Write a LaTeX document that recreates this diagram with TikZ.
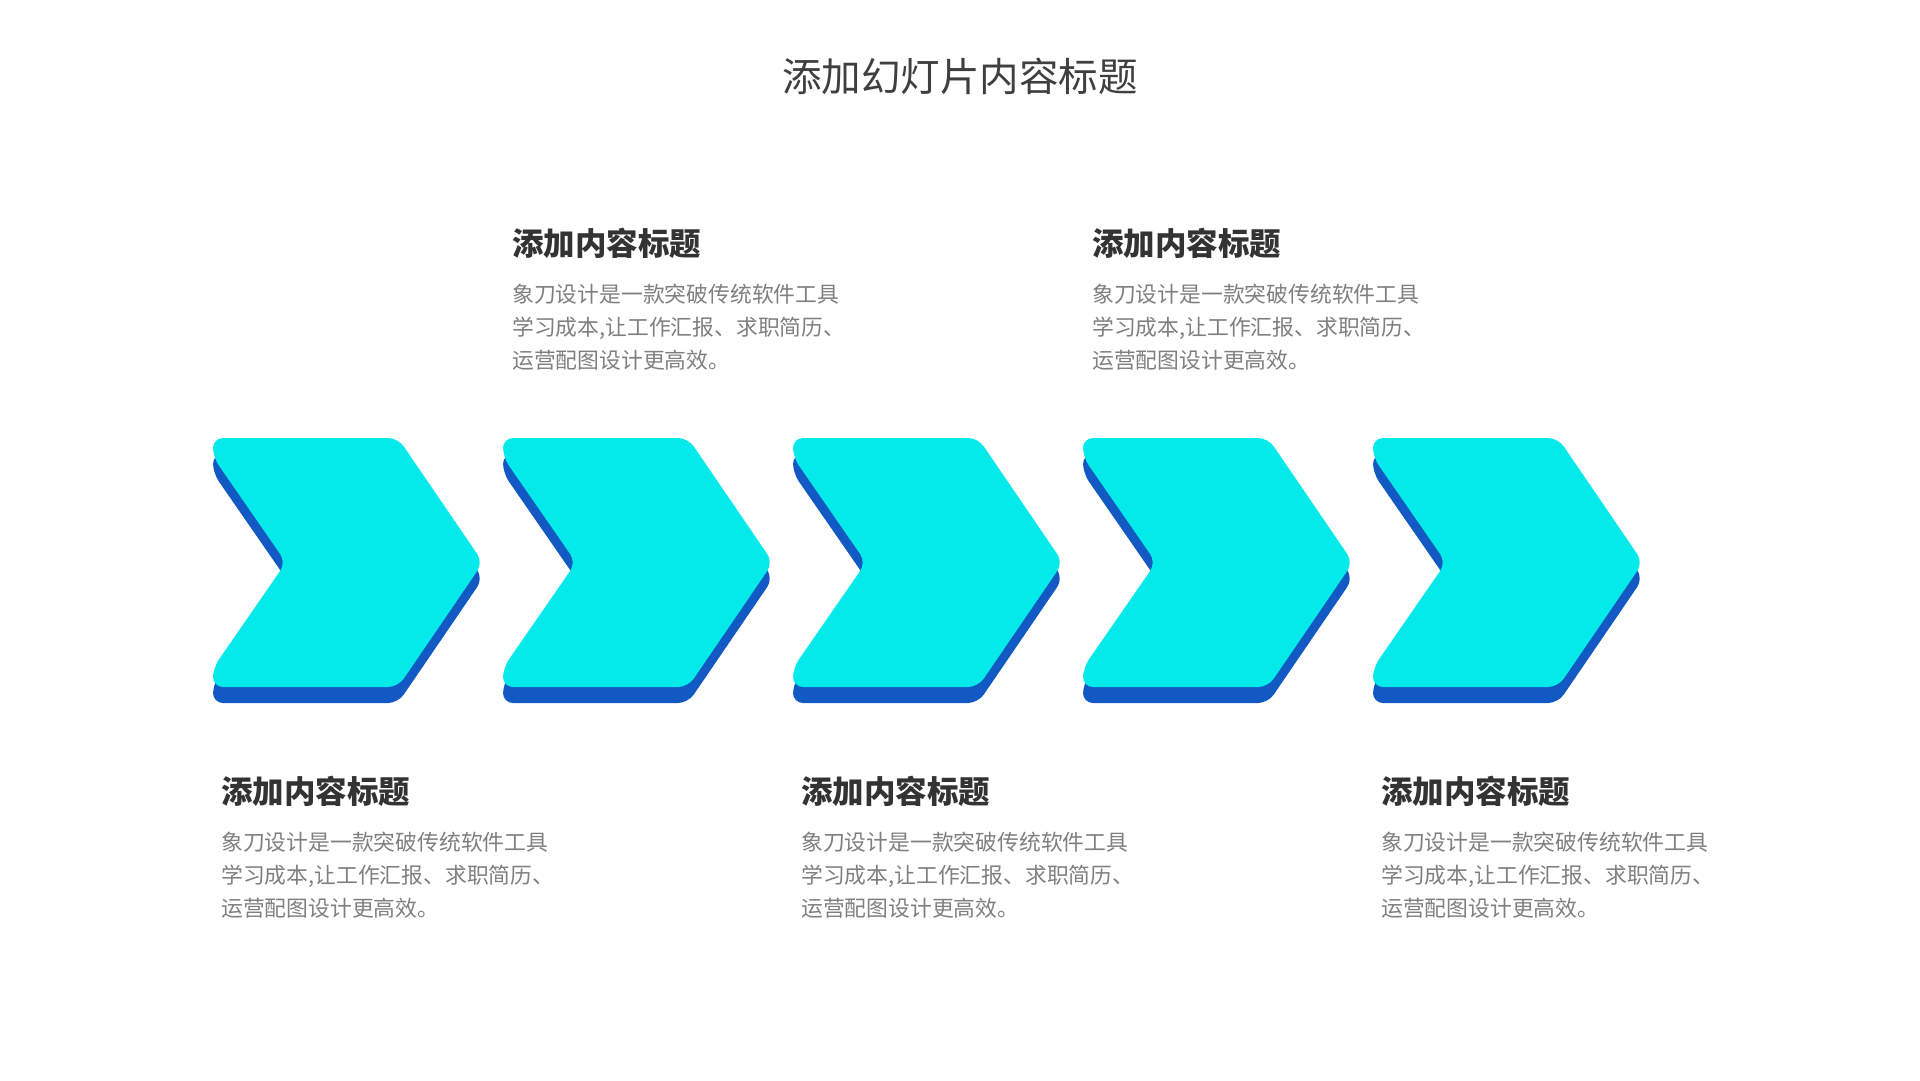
\documentclass[tikz,border=0pt]{standalone}
\usepackage{fontspec}
\setmainfont{Noto Sans CJK SC}
\definecolor{chevtop}{HTML}{04EAEA}
\definecolor{chevshadow}{HTML}{1259C3}
\definecolor{titlegray}{HTML}{3F3F3F}
\definecolor{headgray}{HTML}{333333}
\definecolor{bodygray}{HTML}{7F7F7F}
\tikzset{
  txt/.style={inner sep=0pt, anchor=base west},
  maintitle/.style={inner sep=0pt, anchor=base, text=titlegray, font=\fontsize{39.5}{44}\selectfont},
  heading/.style={txt, text=headgray, font=\fontsize{31.5}{36}\selectfont\bfseries},
  bodyline/.style={txt, text=bodygray, font=\fontsize{21.8}{30}\selectfont},
  chevface/.style={fill=chevtop, rounded corners=10pt},
  chevback/.style={fill=chevshadow, rounded corners=10pt},
}
\newcommand{\chevpath}[2]{% left x, top y
  (#1,#2) -- ({#1+185},#2) -- ({#1+270},{#2+124.5}) -- ({#1+185},{#2+249}) -- (#1,{#2+249}) -- (#1,{#2+230}) -- ({#1+73},{#2+124.5}) -- (#1,{#2+19}) -- cycle}
\newcommand{\infoblock}[3]{% name, x, heading baseline y
  \node[heading] (#1h) at (#2,#3) {添加内容标题};
  \node[bodyline] (#1a) at (#2,{#3+47}) {象刀设计是一款突破传统软件工具};
  \node[bodyline] (#1b) at (#2,{#3+80}) {学习成本,让工作汇报、求职简历、};
  \node[bodyline] (#1c) at (#2,{#3+113}) {运营配图设计更高效。};
}
\begin{document}
\begin{tikzpicture}[x=1pt,y=-1pt]
\useasboundingbox (0,0) rectangle (1920,1080);
\node[maintitle] (title) at (960,91) {添加幻灯片内容标题};
\foreach \X in {213,503,793,1083,1373}{
  \fill[chevback] \chevpath{\X}{454};
  \fill[chevface] \chevpath{\X}{438};
}
\infoblock{t1}{512}{255}
\infoblock{t2}{1092}{255}
\infoblock{b1}{221}{803}
\infoblock{b2}{801}{803}
\infoblock{b3}{1381}{803}
\end{tikzpicture}
\end{document}
